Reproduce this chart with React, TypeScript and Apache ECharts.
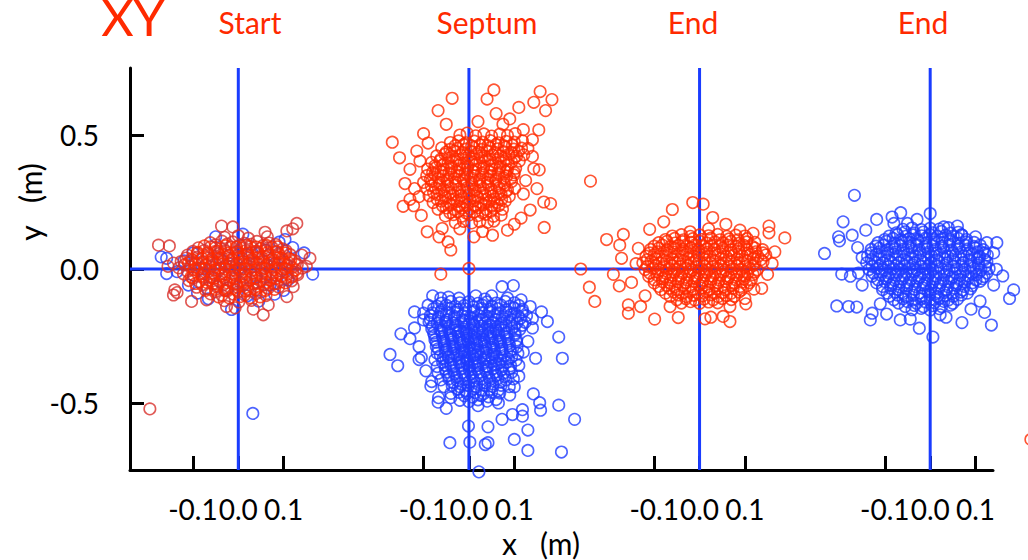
import React, { useEffect, useRef } from "react";
import * as echarts from "echarts";

// ---- data ----
const panelTitles = ["Start", "Septum", "End", "End"];
const panelTitleX = [250, 487, 693, 923];
const panelOffsets = [0, 0.5085, 1.017, 1.5255];
const localTicks = [-0.1, 0.0, 0.1];
const yTicks = [-0.5, 0, 0.5];
const xMin = -0.2388;
const xMax = 1.664;
const yMin = -0.75;
const yMax = 0.75;

type P = [number, number];

const startRed: P[] = [
  [-0.03,0.118],[0.0,0.124],[0.022,0.115],
  [-0.062,0.098],[-0.036,0.104],[-0.012,0.101],[0.014,0.096],[0.041,0.103],[0.068,0.097],
  [-0.088,0.079],[-0.061,0.083],[-0.039,0.076],[-0.016,0.082],[0.006,0.078],[0.027,0.084],[0.049,0.077],[0.074,0.081],[0.098,0.075],
  [-0.112,0.052],[-0.09,0.058],[-0.066,0.054],[-0.044,0.057],[-0.021,0.051],[0.0,0.056],[0.021,0.053],[0.044,0.058],[0.066,0.052],[0.089,0.057],[0.114,0.054],
  [-0.126,0.028],[-0.101,0.033],[-0.079,0.027],[-0.056,0.031],[-0.034,0.029],[-0.011,0.034],[0.011,0.027],[0.034,0.032],[0.056,0.028],[0.079,0.033],[0.101,0.027],[0.124,0.031],
  [-0.131,0.004],[-0.106,0.008],[-0.084,0.002],[-0.061,0.007],[-0.039,0.003],[-0.016,0.008],[0.006,0.002],[0.029,0.007],[0.051,0.003],[0.074,0.008],[0.096,0.001],[0.119,0.006],[0.141,0.003],
  [-0.121,-0.018],[-0.099,-0.023],[-0.076,-0.017],[-0.051,-0.022],[-0.029,-0.019],[-0.006,-0.024],[0.016,-0.018],[0.039,-0.022],[0.061,-0.017],[0.084,-0.023],[0.109,-0.019],[0.131,-0.021],
  [-0.109,-0.043],[-0.086,-0.048],[-0.064,-0.042],[-0.041,-0.047],[-0.019,-0.044],[0.004,-0.049],[0.026,-0.042],[0.049,-0.046],[0.071,-0.043],[0.094,-0.048],[0.118,-0.044],
  [-0.092,-0.068],[-0.069,-0.073],[-0.046,-0.067],[-0.024,-0.072],[-0.001,-0.069],[0.021,-0.074],[0.044,-0.068],[0.066,-0.072],[0.089,-0.067],
  [-0.061,-0.093],[-0.036,-0.098],[-0.011,-0.094],[0.014,-0.097],[0.039,-0.092],[0.061,-0.099],
  [-0.031,-0.118],[0.001,-0.123],[0.029,-0.117],
  [-0.176,0.089],[-0.152,0.086],[-0.037,0.16],[-0.012,0.157],[0.059,0.137],[0.064,0.12],[0.107,0.142],[0.129,0.17],[0.12,0.15],[0.158,0.04],[0.14,0.052],[-0.143,0.022],[-0.14,-0.078],[-0.143,-0.097],[-0.135,-0.088],[-0.103,-0.121],[-0.07,-0.115],[-0.026,-0.14],[-0.007,-0.145],[0.033,-0.15],[0.055,-0.171],[0.066,-0.134],[0.107,-0.103],[0.121,-0.066],[0.129,-0.016],[0.15,0.01],[-0.155,0.01],[-0.195,-0.522],
];

const startRedCore: P[] = [
  [-0.05,0.09],[-0.025,0.093],[0.003,0.089],[0.028,0.092],[0.055,0.088],[0.083,0.091],
  [-0.1,0.066],[-0.075,0.069],[-0.052,0.065],[-0.03,0.068],[-0.005,0.064],[0.017,0.069],[0.039,0.066],[0.06,0.07],[0.083,0.065],[0.105,0.068],
  [-0.115,0.041],[-0.09,0.044],[-0.068,0.04],[-0.045,0.043],[-0.022,0.039],[0.002,0.044],[0.024,0.041],[0.045,0.045],[0.068,0.04],[0.09,0.043],[0.112,0.039],
  [-0.118,0.016],[-0.095,0.019],[-0.071,0.015],[-0.05,0.018],[-0.027,0.014],[-0.004,0.019],[0.018,0.016],[0.04,0.02],[0.063,0.015],[0.086,0.018],[0.108,0.014],[0.13,0.017],
  [-0.112,-0.009],[-0.09,-0.006],[-0.066,-0.01],[-0.044,-0.007],[-0.02,-0.011],[0.004,-0.006],[0.027,-0.009],[0.05,-0.005],[0.072,-0.01],[0.095,-0.007],[0.12,-0.011],
  [-0.1,-0.034],[-0.077,-0.031],[-0.054,-0.035],[-0.031,-0.032],[-0.008,-0.036],[0.015,-0.031],[0.038,-0.034],[0.06,-0.03],[0.083,-0.035],[0.106,-0.032],
  [-0.08,-0.059],[-0.056,-0.056],[-0.034,-0.06],[-0.011,-0.057],[0.011,-0.061],[0.033,-0.056],[0.056,-0.059],[0.078,-0.055],
  [-0.05,-0.084],[-0.024,-0.081],[0.0,-0.085],[0.026,-0.082],[0.05,-0.086],
];

const startRedCenter: P[] = [
  [-0.075,0.086],[-0.05,0.08],[-0.028,0.087],[-0.004,0.081],[0.018,0.088],[0.04,0.082],[0.062,0.088],[0.086,0.083],
  [-0.09,0.062],[-0.068,0.06],[-0.046,0.065],[-0.024,0.059],[-0.002,0.063],[0.02,0.06],[0.042,0.065],[0.064,0.061],[0.086,0.064],[0.104,0.06],
  [-0.104,0.037],[-0.08,0.04],[-0.058,0.036],[-0.036,0.041],[-0.014,0.036],[0.008,0.04],[0.03,0.037],[0.052,0.042],[0.074,0.036],[0.096,0.04],[0.116,0.036],
  [-0.11,0.022],[-0.088,0.019],[-0.064,0.024],[-0.042,0.02],[-0.02,0.023],[0.002,0.018],[0.024,0.022],[0.046,0.018],[0.068,0.023],[0.09,0.019],[0.112,0.022],
  [-0.098,-0.002],[-0.074,0.002],[-0.052,-0.003],[-0.03,0.001],[-0.008,-0.004],[0.014,0.0],[0.036,-0.003],[0.058,0.002],[0.08,-0.002],[0.104,0.001],[0.126,-0.004],
  [-0.104,-0.03],[-0.08,-0.026],[-0.058,-0.03],[-0.036,-0.025],[-0.014,-0.029],[0.008,-0.026],[0.03,-0.031],[0.052,-0.025],[0.074,-0.029],[0.096,-0.026],[0.118,-0.03],
  [-0.094,-0.054],[-0.07,-0.05],[-0.048,-0.055],[-0.026,-0.051],[-0.004,-0.056],[0.018,-0.05],[0.04,-0.054],[0.062,-0.05],[0.084,-0.055],[0.104,-0.052],
  [-0.072,-0.08],[-0.05,-0.076],[-0.028,-0.081],[-0.006,-0.077],[0.016,-0.082],[0.038,-0.077],[0.06,-0.08],[0.08,-0.076],
  [-0.044,-0.104],[-0.02,-0.108],[0.004,-0.103],[0.026,-0.107],[0.048,-0.104],
];

const startBlue: P[] = [
  [-0.158,0.04],[-0.158,-0.017],[0.164,-0.019],[-0.066,-0.111],[-0.015,-0.151],[0.08,-0.094],[0.103,0.11],[0.145,0.06],[0.032,-0.539],[-0.17,0.045],[-0.05,0.12],[0.01,0.13],[0.09,0.1],[-0.1,0.06],[-0.08,0.0],[-0.04,0.04],[0.0,0.0],[0.04,-0.03],[0.08,0.02],[0.11,-0.04],[-0.11,-0.06],[-0.03,-0.08],[0.02,-0.1],[0.06,0.07],[-0.06,-0.03],[0.12,0.08],[-0.12,0.03],[0.03,0.06],[-0.02,0.02],[0.07,-0.06],[0.1,-0.08],[-0.09,-0.09],[0.045,-0.12],[-0.135,-0.01],
];

const septumRed: P[] = [
  [-0.02,0.5],[-0.004,0.507],[0.015,0.497],[0.033,0.504],[0.05,0.496],[0.068,0.503],[0.085,0.498],[0.102,0.505],
  [-0.041,0.472],[-0.023,0.478],[-0.006,0.471],[0.012,0.477],[0.03,0.473],[0.047,0.479],[0.065,0.471],[0.082,0.476],[0.1,0.473],[0.118,0.478],
  [-0.06,0.452],[-0.042,0.446],[-0.025,0.451],[-0.007,0.447],[0.011,0.453],[0.028,0.446],[0.046,0.452],[0.063,0.448],[0.081,0.454],[0.099,0.447],[0.116,0.451],
  [-0.071,0.422],[-0.053,0.428],[-0.036,0.421],[-0.018,0.427],[0.0,0.423],[0.017,0.429],[0.035,0.421],[0.052,0.426],[0.07,0.422],[0.088,0.428],[0.105,0.421],[0.121,0.426],
  [-0.082,0.398],[-0.064,0.403],[-0.046,0.397],[-0.029,0.402],[-0.011,0.396],[0.006,0.401],[0.024,0.398],[0.042,0.404],[0.059,0.397],[0.077,0.402],[0.094,0.399],[0.111,0.403],
  [-0.091,0.373],[-0.073,0.378],[-0.056,0.372],[-0.038,0.377],[-0.02,0.374],[-0.003,0.379],[0.015,0.372],[0.032,0.376],[0.05,0.373],[0.068,0.378],[0.085,0.371],[0.103,0.376],
  [-0.093,0.348],[-0.075,0.353],[-0.057,0.347],[-0.04,0.352],[-0.022,0.349],[-0.004,0.354],[0.013,0.347],[0.031,0.351],[0.048,0.348],[0.066,0.353],[0.083,0.346],[0.099,0.351],
  [-0.1,0.323],[-0.082,0.328],[-0.064,0.322],[-0.047,0.327],[-0.029,0.324],[-0.011,0.329],[0.006,0.322],[0.024,0.326],[0.041,0.323],[0.059,0.328],[0.077,0.321],[0.094,0.326],
  [-0.092,0.298],[-0.074,0.303],[-0.056,0.297],[-0.039,0.302],[-0.021,0.299],[-0.003,0.304],[0.014,0.297],[0.032,0.301],[0.049,0.298],[0.067,0.303],[0.085,0.296],[0.101,0.301],
  [-0.088,0.273],[-0.07,0.278],[-0.052,0.272],[-0.035,0.277],[-0.017,0.274],[0.001,0.279],[0.018,0.272],[0.036,0.276],[0.053,0.273],[0.071,0.278],[0.089,0.271],
  [-0.079,0.248],[-0.061,0.253],[-0.043,0.247],[-0.026,0.252],[-0.008,0.249],[0.01,0.254],[0.027,0.247],[0.045,0.251],[0.062,0.248],[0.08,0.253],
  [-0.068,0.223],[-0.05,0.228],[-0.032,0.222],[-0.015,0.227],[0.003,0.224],[0.021,0.229],[0.038,0.222],[0.056,0.226],[0.074,0.223],
  [-0.052,0.198],[-0.034,0.203],[-0.016,0.197],[0.001,0.202],[0.019,0.199],[0.037,0.204],[0.054,0.197],[0.071,0.201],
  [-0.03,0.173],[-0.012,0.178],[0.006,0.172],[0.024,0.177],[0.041,0.174],[0.055,0.179],
  [-0.169,0.473],[-0.153,0.415],[-0.13,0.372],[-0.141,0.319],[-0.145,0.234],[-0.122,0.236],[-0.108,0.403],[-0.1,0.505],[-0.068,0.591],[-0.037,0.637],[0.04,0.634],[0.055,0.668],[0.11,0.603],[0.143,0.622],[0.157,0.662],[0.183,0.632],[0.169,0.591],[0.154,0.519],[0.14,0.482],[0.143,0.374],[0.155,0.37],[0.18,0.244],[0.165,0.25],[0.166,0.155],[0.1,0.167],[0.085,0.145],[0.052,0.126],[0.011,0.12],[-0.04,0.071],[-0.046,0.101],[-0.066,0.12],[-0.092,0.139],[-0.059,0.151],[0.268,0.328],[-0.062,-0.019],[0.0,0.002],
  [-0.115,0.44],[-0.12,0.3],[-0.11,0.27],[-0.105,0.2],[0.13,0.45],[0.14,0.42],[0.125,0.33],[0.12,0.28],[0.135,0.22],[0.115,0.19],[0.075,0.54],[0.09,0.56],[0.02,0.55],[-0.05,0.54],[-0.09,0.47],[0.12,0.52],[0.15,0.3],[-0.13,0.26],[0.03,0.14],[-0.02,0.15],[0.06,0.58],[0.1,0.36],
];

const septumRedCore: P[] = [
  [-0.03,0.46],[-0.012,0.464],[0.006,0.459],[0.024,0.463],[0.042,0.46],[0.06,0.465],[0.078,0.459],[0.096,0.462],
  [-0.05,0.436],[-0.032,0.44],[-0.014,0.435],[0.004,0.439],[0.022,0.436],[0.04,0.441],[0.058,0.435],[0.076,0.438],[0.094,0.435],[0.11,0.44],
  [-0.062,0.41],[-0.044,0.414],[-0.026,0.409],[-0.008,0.413],[0.01,0.41],[0.028,0.415],[0.046,0.409],[0.064,0.412],[0.082,0.409],[0.1,0.414],
  [-0.075,0.385],[-0.057,0.389],[-0.039,0.384],[-0.021,0.388],[-0.003,0.385],[0.015,0.39],[0.033,0.384],[0.051,0.387],[0.069,0.384],[0.087,0.389],
  [-0.08,0.36],[-0.062,0.364],[-0.044,0.359],[-0.026,0.363],[-0.008,0.36],[0.01,0.365],[0.028,0.359],[0.046,0.362],[0.064,0.359],[0.082,0.364],
  [-0.085,0.335],[-0.067,0.339],[-0.049,0.334],[-0.031,0.338],[-0.013,0.335],[0.005,0.34],[0.023,0.334],[0.041,0.337],[0.059,0.334],[0.077,0.339],[0.092,0.336],
  [-0.083,0.31],[-0.065,0.314],[-0.047,0.309],[-0.029,0.313],[-0.011,0.31],[0.007,0.315],[0.025,0.309],[0.043,0.312],[0.061,0.309],[0.079,0.314],
  [-0.078,0.285],[-0.06,0.289],[-0.042,0.284],[-0.024,0.288],[-0.006,0.285],[0.012,0.29],[0.03,0.284],[0.048,0.287],[0.066,0.284],[0.082,0.289],
  [-0.07,0.26],[-0.052,0.264],[-0.034,0.259],[-0.016,0.263],[0.002,0.26],[0.02,0.265],[0.038,0.259],[0.056,0.262],[0.072,0.259],
  [-0.058,0.235],[-0.04,0.239],[-0.022,0.234],[-0.004,0.238],[0.014,0.235],[0.032,0.24],[0.05,0.234],[0.066,0.237],
  [-0.042,0.21],[-0.024,0.214],[-0.006,0.209],[0.012,0.213],[0.03,0.21],[0.048,0.215],
];

const septumBlue: P[] = [
  [-0.06,-0.127],[-0.04,-0.121],[-0.02,-0.126],[0.0,-0.122],[0.02,-0.128],[0.04,-0.123],[0.06,-0.127],[0.08,-0.121],[0.1,-0.126],
  [-0.078,-0.148],[-0.06,-0.154],[-0.043,-0.147],[-0.025,-0.152],[-0.007,-0.149],[0.011,-0.155],[0.028,-0.147],[0.046,-0.151],[0.064,-0.148],[0.082,-0.153],[0.1,-0.146],[0.118,-0.151],
  [-0.085,-0.173],[-0.067,-0.178],[-0.05,-0.172],[-0.032,-0.177],[-0.014,-0.174],[0.003,-0.179],[0.021,-0.172],[0.039,-0.176],[0.056,-0.173],[0.074,-0.178],[0.092,-0.171],[0.109,-0.176],[0.127,-0.174],
  [-0.088,-0.198],[-0.07,-0.203],[-0.052,-0.197],[-0.035,-0.202],[-0.017,-0.199],[0.001,-0.204],[0.018,-0.197],[0.036,-0.201],[0.053,-0.198],[0.071,-0.203],[0.089,-0.196],[0.106,-0.201],[0.124,-0.199],
  [-0.082,-0.223],[-0.064,-0.228],[-0.046,-0.222],[-0.029,-0.227],[-0.011,-0.224],[0.007,-0.229],[0.024,-0.222],[0.042,-0.226],[0.059,-0.223],[0.077,-0.228],[0.095,-0.221],[0.112,-0.226],
  [-0.076,-0.248],[-0.058,-0.253],[-0.04,-0.247],[-0.023,-0.252],[-0.005,-0.249],[0.013,-0.254],[0.03,-0.247],[0.048,-0.251],[0.065,-0.248],[0.083,-0.253],[0.101,-0.246],
  [-0.072,-0.273],[-0.054,-0.278],[-0.036,-0.272],[-0.019,-0.277],[-0.001,-0.274],[0.017,-0.279],[0.034,-0.272],[0.052,-0.276],[0.069,-0.273],[0.087,-0.278],[0.104,-0.271],
  [-0.068,-0.298],[-0.05,-0.303],[-0.032,-0.297],[-0.015,-0.302],[0.003,-0.299],[0.021,-0.304],[0.038,-0.297],[0.056,-0.301],[0.073,-0.298],[0.091,-0.303],
  [-0.063,-0.323],[-0.045,-0.328],[-0.027,-0.322],[-0.01,-0.327],[0.008,-0.324],[0.026,-0.329],[0.043,-0.322],[0.061,-0.326],[0.078,-0.323],[0.094,-0.328],
  [-0.058,-0.348],[-0.04,-0.353],[-0.022,-0.347],[-0.005,-0.352],[0.013,-0.349],[0.031,-0.354],[0.048,-0.347],[0.066,-0.351],[0.083,-0.348],
  [-0.052,-0.373],[-0.034,-0.378],[-0.016,-0.372],[0.001,-0.377],[0.019,-0.374],[0.037,-0.379],[0.054,-0.372],[0.072,-0.376],[0.089,-0.373],
  [-0.045,-0.398],[-0.027,-0.403],[-0.009,-0.397],[0.008,-0.402],[0.026,-0.399],[0.044,-0.404],[0.061,-0.397],[0.079,-0.401],
  [-0.036,-0.423],[-0.018,-0.428],[0.0,-0.422],[0.017,-0.427],[0.035,-0.424],[0.053,-0.429],[0.07,-0.422],
  [-0.025,-0.448],[-0.007,-0.453],[0.011,-0.447],[0.028,-0.452],[0.046,-0.449],[0.064,-0.454],
  [-0.01,-0.473],[0.008,-0.478],[0.026,-0.472],[0.043,-0.477],
  [0.073,-0.066],[0.098,-0.062],[-0.062,-0.109],[-0.022,-0.109],[-0.15,-0.242],[-0.174,-0.319],[-0.157,-0.361],[-0.11,-0.338],[0.173,-0.196],[0.198,-0.254],[0.206,-0.333],[0.147,-0.333],[0.142,-0.466],[0.156,-0.499],[0.158,-0.527],[0.198,-0.508],[0.233,-0.561],[0.204,-0.683],[0.13,-0.601],[0.13,-0.677],[0.118,-0.549],[0.1,-0.636],[0.042,-0.589],[0.042,-0.648],[0.036,-0.655],[0.002,-0.646],[-0.042,-0.648],[-0.001,-0.586],[0.022,-0.757],[-0.068,-0.497],[-0.067,-0.48],[-0.084,-0.437],[-0.082,-0.42],[0.073,-0.561],[0.096,-0.543],[0.118,-0.525],
  [-0.12,-0.22],[-0.13,-0.26],[-0.11,-0.29],[-0.1,-0.19],[-0.105,-0.33],[-0.095,-0.38],[0.14,-0.22],[0.13,-0.27],[0.12,-0.31],[0.11,-0.4],[0.1,-0.44],[0.09,-0.47],[0.065,-0.5],[-0.04,-0.48],[-0.05,-0.52],[0.02,-0.51],[0.05,-0.1],[-0.08,-0.1],[0.16,-0.16],[0.11,-0.36],[-0.12,-0.16],
];

const septumBlueCore: P[] = [
  [-0.07,-0.139],[-0.05,-0.135],[-0.03,-0.14],[-0.01,-0.136],[0.01,-0.141],[0.03,-0.135],[0.05,-0.138],[0.07,-0.134],[0.09,-0.139],[0.11,-0.136],
  [-0.08,-0.164],[-0.062,-0.16],[-0.044,-0.165],[-0.026,-0.161],[-0.008,-0.166],[0.01,-0.16],[0.028,-0.163],[0.046,-0.159],[0.064,-0.164],[0.082,-0.161],[0.1,-0.165],[0.118,-0.16],
  [-0.085,-0.189],[-0.067,-0.185],[-0.049,-0.19],[-0.031,-0.186],[-0.013,-0.191],[0.005,-0.185],[0.023,-0.188],[0.041,-0.184],[0.059,-0.189],[0.077,-0.186],[0.095,-0.19],[0.113,-0.185],
  [-0.08,-0.214],[-0.062,-0.21],[-0.044,-0.215],[-0.026,-0.211],[-0.008,-0.216],[0.01,-0.21],[0.028,-0.213],[0.046,-0.209],[0.064,-0.214],[0.082,-0.211],[0.1,-0.215],[0.118,-0.21],
  [-0.078,-0.239],[-0.06,-0.235],[-0.042,-0.24],[-0.024,-0.236],[-0.006,-0.241],[0.012,-0.235],[0.03,-0.238],[0.048,-0.234],[0.066,-0.239],[0.084,-0.236],[0.102,-0.24],
  [-0.075,-0.264],[-0.057,-0.26],[-0.039,-0.265],[-0.021,-0.261],[-0.003,-0.266],[0.015,-0.26],[0.033,-0.263],[0.051,-0.259],[0.069,-0.264],[0.087,-0.261],[0.105,-0.265],
  [-0.072,-0.289],[-0.054,-0.285],[-0.036,-0.29],[-0.018,-0.286],[0.0,-0.291],[0.018,-0.285],[0.036,-0.288],[0.054,-0.284],[0.072,-0.289],[0.09,-0.286],[0.106,-0.29],
  [-0.07,-0.314],[-0.052,-0.31],[-0.034,-0.315],[-0.016,-0.311],[0.002,-0.316],[0.02,-0.31],[0.038,-0.313],[0.056,-0.309],[0.074,-0.314],[0.092,-0.311],[0.108,-0.315],
  [-0.075,-0.339],[-0.057,-0.335],[-0.039,-0.34],[-0.021,-0.336],[-0.003,-0.341],[0.015,-0.335],[0.033,-0.338],[0.051,-0.334],[0.069,-0.339],[0.087,-0.336],[0.104,-0.34],
  [-0.07,-0.364],[-0.052,-0.36],[-0.034,-0.365],[-0.016,-0.361],[0.002,-0.366],[0.02,-0.36],[0.038,-0.363],[0.056,-0.359],[0.074,-0.364],[0.092,-0.361],
  [-0.068,-0.389],[-0.05,-0.385],[-0.032,-0.39],[-0.014,-0.386],[0.004,-0.391],[0.022,-0.385],[0.04,-0.388],[0.058,-0.384],[0.076,-0.389],[0.094,-0.386],
  [-0.062,-0.414],[-0.044,-0.41],[-0.026,-0.415],[-0.008,-0.411],[0.01,-0.416],[0.028,-0.41],[0.046,-0.413],[0.064,-0.409],[0.082,-0.414],[0.098,-0.41],
  [-0.055,-0.439],[-0.037,-0.435],[-0.019,-0.44],[-0.001,-0.436],[0.017,-0.441],[0.035,-0.435],[0.053,-0.438],[0.071,-0.434],[0.089,-0.439],
  [-0.04,-0.464],[-0.022,-0.46],[-0.004,-0.465],[0.014,-0.461],[0.032,-0.466],[0.05,-0.46],[0.068,-0.463],
  [-0.02,-0.49],[0.0,-0.495],[0.02,-0.488],[0.04,-0.493],[0.06,-0.487],
];

const septumBlueCenter: P[] = [
  [-0.05,-0.2],[-0.03,-0.21],[-0.01,-0.195],[0.01,-0.205],[0.03,-0.19],[0.05,-0.2],[0.07,-0.21],
  [-0.06,-0.23],[-0.04,-0.245],[-0.02,-0.23],[0.0,-0.24],[0.02,-0.232],[0.04,-0.245],[0.06,-0.23],[0.08,-0.242],
  [-0.055,-0.27],[-0.035,-0.26],[-0.015,-0.272],[0.005,-0.262],[0.025,-0.27],[0.045,-0.258],[0.065,-0.27],
  [-0.05,-0.3],[-0.03,-0.29],[-0.01,-0.305],[0.01,-0.295],[0.03,-0.306],[0.05,-0.292],[0.07,-0.3],
  [-0.045,-0.33],[-0.025,-0.318],[-0.005,-0.333],[0.015,-0.32],[0.035,-0.332],[0.055,-0.32],
  [-0.04,-0.36],[-0.02,-0.35],[0.0,-0.362],[0.02,-0.352],[0.04,-0.365],[0.06,-0.355],
  [-0.045,-0.105],[0.015,-0.1],[0.035,-0.112],[0.085,-0.108],[0.115,-0.115],[-0.09,-0.135],[0.135,-0.14],[-0.1,-0.165],[0.14,-0.185],
];

const end1Red: P[] = [
  [-0.06,0.123],[-0.04,0.128],[-0.02,0.122],[0.0,0.127],[0.02,0.124],[0.04,0.129],[0.06,0.122],[0.08,0.126],[0.1,0.123],
  [-0.09,0.098],[-0.072,0.103],[-0.054,0.097],[-0.037,0.102],[-0.019,0.099],[-0.001,0.104],[0.016,0.097],[0.034,0.101],[0.051,0.098],[0.069,0.103],[0.087,0.096],[0.104,0.101],[0.122,0.099],
  [-0.108,0.073],[-0.09,0.078],[-0.072,0.072],[-0.055,0.077],[-0.037,0.074],[-0.019,0.079],[-0.002,0.072],[0.016,0.076],[0.033,0.073],[0.051,0.078],[0.069,0.071],[0.086,0.076],[0.104,0.074],[0.122,0.078],[0.139,0.072],
  [-0.118,0.048],[-0.1,0.053],[-0.082,0.047],[-0.065,0.052],[-0.047,0.049],[-0.029,0.054],[-0.012,0.047],[0.006,0.051],[0.023,0.048],[0.041,0.053],[0.059,0.046],[0.076,0.051],[0.094,0.049],[0.112,0.054],[0.129,0.047],[0.146,0.052],
  [-0.125,0.023],[-0.107,0.028],[-0.089,0.022],[-0.072,0.027],[-0.054,0.024],[-0.036,0.029],[-0.019,0.022],[-0.001,0.026],[0.016,0.023],[0.034,0.028],[0.052,0.021],[0.069,0.026],[0.087,0.024],[0.105,0.029],[0.122,0.022],[0.14,0.027],
  [-0.12,-0.002],[-0.102,0.003],[-0.084,-0.003],[-0.067,0.002],[-0.049,-0.001],[-0.031,0.004],[-0.014,-0.003],[0.004,0.001],[0.021,-0.002],[0.039,0.003],[0.057,-0.004],[0.074,0.001],[0.092,-0.001],[0.11,0.004],[0.127,-0.003],
  [-0.112,-0.027],[-0.094,-0.022],[-0.076,-0.028],[-0.059,-0.023],[-0.041,-0.026],[-0.023,-0.021],[-0.006,-0.028],[0.012,-0.024],[0.029,-0.027],[0.047,-0.022],[0.065,-0.029],[0.082,-0.024],[0.1,-0.026],[0.118,-0.021],
  [-0.1,-0.052],[-0.082,-0.047],[-0.064,-0.053],[-0.047,-0.048],[-0.029,-0.051],[-0.011,-0.046],[0.006,-0.053],[0.024,-0.049],[0.041,-0.052],[0.059,-0.047],[0.077,-0.054],[0.094,-0.049],[0.11,-0.051],
  [-0.085,-0.077],[-0.067,-0.072],[-0.049,-0.078],[-0.032,-0.073],[-0.014,-0.076],[0.004,-0.071],[0.021,-0.078],[0.039,-0.074],[0.056,-0.077],[0.074,-0.072],[0.092,-0.079],
  [-0.065,-0.102],[-0.047,-0.097],[-0.029,-0.103],[-0.012,-0.098],[0.006,-0.101],[0.024,-0.096],[0.041,-0.103],[0.059,-0.099],[0.077,-0.102],
  [-0.04,-0.127],[-0.02,-0.122],[0.0,-0.128],[0.02,-0.123],[0.04,-0.126],
  [-0.205,0.11],[-0.168,0.129],[-0.176,0.089],[-0.135,0.077],[-0.172,0.04],[-0.11,0.148],[-0.079,0.176],[-0.06,0.222],[-0.015,0.248],[0.008,0.242],[0.029,0.192],[0.058,0.167],[0.089,0.145],[0.118,0.133],[0.153,0.16],[0.153,0.135],[0.188,0.116],[0.166,0.064],[0.14,0.06],[-0.021,0.139],[0.02,0.15],[-0.262,0.0],[-0.243,-0.068],[-0.231,-0.121],[-0.177,-0.063],[-0.157,-0.134],[-0.157,-0.165],[-0.13,-0.14],[-0.099,-0.187],[-0.047,-0.181],[-0.065,-0.14],[0.012,-0.186],[0.025,-0.18],[0.067,-0.196],[0.067,-0.14],[0.102,-0.13],[0.137,-0.072],[0.12,-0.075],[0.052,-0.177],[-0.19,-0.02],[-0.15,-0.05],[-0.14,0.02],[0.15,-0.02],[0.16,0.02],[-0.12,-0.1],[0.1,-0.11],
];

const end1RedCore: P[] = [
  [-0.075,0.11],[-0.055,0.114],[-0.035,0.109],[-0.015,0.113],[0.005,0.11],[0.025,0.115],[0.045,0.109],[0.065,0.112],[0.085,0.109],[0.105,0.113],
  [-0.1,0.085],[-0.082,0.089],[-0.064,0.084],[-0.046,0.088],[-0.028,0.085],[-0.01,0.09],[0.008,0.084],[0.026,0.087],[0.044,0.084],[0.062,0.089],[0.08,0.085],[0.098,0.088],[0.116,0.084],
  [-0.11,0.06],[-0.092,0.064],[-0.074,0.059],[-0.056,0.063],[-0.038,0.06],[-0.02,0.065],[-0.002,0.059],[0.016,0.062],[0.034,0.059],[0.052,0.064],[0.07,0.06],[0.088,0.063],[0.106,0.059],[0.124,0.064],
  [-0.115,0.035],[-0.097,0.039],[-0.079,0.034],[-0.061,0.038],[-0.043,0.035],[-0.025,0.04],[-0.007,0.034],[0.011,0.037],[0.029,0.034],[0.047,0.039],[0.065,0.035],[0.083,0.038],[0.101,0.034],[0.119,0.039],[0.135,0.035],
  [-0.115,0.01],[-0.097,0.014],[-0.079,0.009],[-0.061,0.013],[-0.043,0.01],[-0.025,0.015],[-0.007,0.009],[0.011,0.012],[0.029,0.009],[0.047,0.014],[0.065,0.01],[0.083,0.013],[0.101,0.009],[0.119,0.014],
  [-0.11,-0.015],[-0.092,-0.011],[-0.074,-0.016],[-0.056,-0.012],[-0.038,-0.015],[-0.02,-0.01],[-0.002,-0.016],[0.016,-0.013],[0.034,-0.016],[0.052,-0.011],[0.07,-0.015],[0.088,-0.012],[0.106,-0.016],[0.122,-0.011],
  [-0.1,-0.04],[-0.082,-0.036],[-0.064,-0.041],[-0.046,-0.037],[-0.028,-0.04],[-0.01,-0.035],[0.008,-0.041],[0.026,-0.038],[0.044,-0.041],[0.062,-0.036],[0.08,-0.04],[0.098,-0.037],[0.114,-0.041],
  [-0.09,-0.065],[-0.072,-0.061],[-0.054,-0.066],[-0.036,-0.062],[-0.018,-0.065],[0.0,-0.06],[0.018,-0.066],[0.036,-0.063],[0.054,-0.066],[0.072,-0.061],[0.09,-0.065],[0.105,-0.062],
  [-0.075,-0.09],[-0.057,-0.086],[-0.039,-0.091],[-0.021,-0.087],[-0.003,-0.09],[0.015,-0.085],[0.033,-0.091],[0.051,-0.088],[0.069,-0.091],[0.087,-0.086],
  [-0.05,-0.115],[-0.03,-0.111],[-0.01,-0.116],[0.01,-0.112],[0.03,-0.115],[0.05,-0.11],[0.07,-0.114],
];

const end2Blue: P[] = [
  [-0.06,0.148],[-0.04,0.153],[-0.02,0.147],[0.0,0.152],[0.02,0.149],[0.04,0.154],
  [-0.09,0.123],[-0.072,0.128],[-0.054,0.122],[-0.037,0.127],[-0.019,0.124],[-0.001,0.129],[0.016,0.122],[0.034,0.126],[0.051,0.123],[0.069,0.128],
  [-0.115,0.098],[-0.097,0.103],[-0.079,0.097],[-0.062,0.102],[-0.044,0.099],[-0.026,0.104],[-0.009,0.097],[0.009,0.101],[0.026,0.098],[0.044,0.103],[0.062,0.096],[0.079,0.101],[0.097,0.099],
  [-0.13,0.073],[-0.112,0.078],[-0.094,0.072],[-0.077,0.077],[-0.059,0.074],[-0.041,0.079],[-0.024,0.072],[-0.006,0.076],[0.011,0.073],[0.029,0.078],[0.047,0.071],[0.064,0.076],[0.082,0.074],[0.1,0.078],[0.117,0.072],
  [-0.138,0.048],[-0.12,0.053],[-0.102,0.047],[-0.085,0.052],[-0.067,0.049],[-0.049,0.054],[-0.032,0.047],[-0.014,0.051],[0.003,0.048],[0.021,0.053],[0.039,0.046],[0.056,0.051],[0.074,0.049],[0.092,0.054],[0.109,0.047],[0.126,0.052],
  [-0.14,0.023],[-0.122,0.028],[-0.104,0.022],[-0.087,0.027],[-0.069,0.024],[-0.051,0.029],[-0.034,0.022],[-0.016,0.026],[0.001,0.023],[0.019,0.028],[0.037,0.021],[0.054,0.026],[0.072,0.024],[0.09,0.029],[0.107,0.022],[0.125,0.027],
  [-0.135,-0.002],[-0.117,0.003],[-0.099,-0.003],[-0.082,0.002],[-0.064,-0.001],[-0.046,0.004],[-0.029,-0.003],[-0.011,0.001],[0.006,-0.002],[0.024,0.003],[0.042,-0.004],[0.059,0.001],[0.077,-0.001],[0.095,0.004],[0.112,-0.003],[0.13,0.002],
  [-0.128,-0.027],[-0.11,-0.022],[-0.092,-0.028],[-0.075,-0.023],[-0.057,-0.026],[-0.039,-0.021],[-0.022,-0.028],[-0.004,-0.024],[0.013,-0.027],[0.031,-0.022],[0.049,-0.029],[0.066,-0.024],[0.084,-0.026],[0.102,-0.021],[0.119,-0.028],
  [-0.118,-0.052],[-0.1,-0.047],[-0.082,-0.053],[-0.065,-0.048],[-0.047,-0.051],[-0.029,-0.046],[-0.012,-0.053],[0.006,-0.049],[0.023,-0.052],[0.041,-0.047],[0.059,-0.054],[0.076,-0.049],[0.094,-0.051],[0.11,-0.046],
  [-0.105,-0.077],[-0.087,-0.072],[-0.069,-0.078],[-0.052,-0.073],[-0.034,-0.076],[-0.016,-0.071],[0.001,-0.078],[0.019,-0.074],[0.036,-0.077],[0.054,-0.072],[0.072,-0.079],[0.089,-0.074],
  [-0.09,-0.102],[-0.072,-0.097],[-0.054,-0.103],[-0.037,-0.098],[-0.019,-0.101],[-0.001,-0.096],[0.016,-0.103],[0.034,-0.099],[0.051,-0.102],[0.069,-0.097],
  [-0.07,-0.127],[-0.05,-0.122],[-0.03,-0.128],[-0.01,-0.123],[0.01,-0.126],[0.03,-0.121],[0.05,-0.128],
  [-0.04,-0.152],[-0.02,-0.147],[0.0,-0.153],[0.02,-0.148],
  [-0.167,0.275],[-0.192,0.176],[-0.233,0.058],[-0.202,0.12],[-0.2,0.105],[-0.172,0.126],[-0.142,0.145],[-0.118,0.185],[-0.084,0.194],[-0.065,0.21],[-0.029,0.185],[0.0,0.207],[0.03,0.157],[0.07,0.126],[0.125,0.098],[0.147,0.098],[0.107,0.043],[0.146,-0.001],[0.16,-0.026],[0.184,-0.078],[0.175,-0.11],[0.12,-0.162],[0.135,-0.209],[0.07,-0.2],[0.006,-0.254],[-0.024,-0.221],[-0.044,-0.187],[-0.096,-0.168],[-0.132,-0.19],[-0.128,-0.165],[-0.206,-0.138],[-0.18,-0.14],[-0.162,-0.142],[-0.195,-0.019],[-0.176,-0.027],[-0.158,-0.015],[-0.15,0.043],[-0.066,-0.19],[0.022,-0.171],[0.035,-0.18],[0.09,-0.15],[0.14,0.06],[-0.16,0.08],[-0.05,0.17],[0.06,0.16],[0.1,0.12],[0.14,-0.06],[-0.15,-0.06],[-0.11,-0.13],[0.11,-0.12],[-0.08,0.17],
];

const end2BlueCore: P[] = [
  [-0.075,0.135],[-0.055,0.139],[-0.035,0.134],[-0.015,0.138],[0.005,0.135],[0.025,0.14],[0.045,0.134],[0.062,0.137],
  [-0.1,0.11],[-0.082,0.114],[-0.064,0.109],[-0.046,0.113],[-0.028,0.11],[-0.01,0.115],[0.008,0.109],[0.026,0.112],[0.044,0.109],[0.062,0.114],[0.08,0.11],
  [-0.12,0.085],[-0.102,0.089],[-0.084,0.084],[-0.066,0.088],[-0.048,0.085],[-0.03,0.09],[-0.012,0.084],[0.006,0.087],[0.024,0.084],[0.042,0.089],[0.06,0.085],[0.078,0.088],[0.096,0.084],[0.11,0.089],
  [-0.13,0.06],[-0.112,0.064],[-0.094,0.059],[-0.076,0.063],[-0.058,0.06],[-0.04,0.065],[-0.022,0.059],[-0.004,0.062],[0.014,0.059],[0.032,0.064],[0.05,0.06],[0.068,0.063],[0.086,0.059],[0.104,0.064],[0.12,0.06],
  [-0.13,0.035],[-0.112,0.039],[-0.094,0.034],[-0.076,0.038],[-0.058,0.035],[-0.04,0.04],[-0.022,0.034],[-0.004,0.037],[0.014,0.034],[0.032,0.039],[0.05,0.035],[0.068,0.038],[0.086,0.034],[0.104,0.039],[0.12,0.035],
  [-0.128,0.01],[-0.11,0.014],[-0.092,0.009],[-0.074,0.013],[-0.056,0.01],[-0.038,0.015],[-0.02,0.009],[-0.002,0.012],[0.016,0.009],[0.034,0.014],[0.052,0.01],[0.07,0.013],[0.088,0.009],[0.106,0.014],[0.122,0.01],
  [-0.125,-0.015],[-0.107,-0.011],[-0.089,-0.016],[-0.071,-0.012],[-0.053,-0.015],[-0.035,-0.01],[-0.017,-0.016],[0.001,-0.013],[0.019,-0.016],[0.037,-0.011],[0.055,-0.015],[0.073,-0.012],[0.091,-0.016],[0.109,-0.011],[0.125,-0.015],
  [-0.115,-0.04],[-0.097,-0.036],[-0.079,-0.041],[-0.061,-0.037],[-0.043,-0.04],[-0.025,-0.035],[-0.007,-0.041],[0.011,-0.038],[0.029,-0.041],[0.047,-0.036],[0.065,-0.04],[0.083,-0.037],[0.101,-0.041],[0.115,-0.036],
  [-0.105,-0.065],[-0.087,-0.061],[-0.069,-0.066],[-0.051,-0.062],[-0.033,-0.065],[-0.015,-0.06],[0.003,-0.066],[0.021,-0.063],[0.039,-0.066],[0.057,-0.061],[0.075,-0.065],[0.093,-0.062],
  [-0.095,-0.09],[-0.077,-0.086],[-0.059,-0.091],[-0.041,-0.087],[-0.023,-0.09],[-0.005,-0.085],[0.013,-0.091],[0.031,-0.088],[0.049,-0.091],[0.067,-0.086],[0.082,-0.09],
  [-0.08,-0.115],[-0.06,-0.111],[-0.04,-0.116],[-0.02,-0.112],[0.0,-0.115],[0.02,-0.11],[0.04,-0.116],[0.06,-0.113],
  [-0.055,-0.14],[-0.035,-0.136],[-0.015,-0.141],[0.005,-0.137],[0.025,-0.14],[0.045,-0.135],
];

const end2Red: P[] = [[0.222, -0.636]];

// ---- styles ----
const RED = "#ff2a00";
const START_RED = "#d8302a";
const BLUE = "#1f3cff";
const LINE_BLUE = "#1a3cff";
const FONT = "Lato";

const shift = (pts: P[], panel: number) => pts.map(([x, y]) => [x + panelOffsets[panel], y]);

function scatter(name: string, pts: P[], panel: number, color: string, z: number) {
  return {
    name,
    type: "scatter",
    data: shift(pts, panel),
    symbol: "circle",
    symbolSize: 11.5,
    clip: false,
    z,
    itemStyle: { color: "rgba(0,0,0,0)", borderColor: color, borderWidth: 1.6 },
    emphasis: { disabled: true },
  };
}

export default function App() {
  const ref = useRef<HTMLDivElement>(null);
  useEffect(() => {
    if (!ref.current) return;
    const chart = echarts.init(ref.current, undefined, { renderer: "svg" });
    const xTickValues: number[] = [];
    panelOffsets.forEach((o) => localTicks.forEach((t) => xTickValues.push(o + t)));
    const lineSeries: any[] = panelOffsets.map((o, i) => ({
      name: "v" + i,
      type: "line",
      data: [[o, yMin], [o, yMax]],
      symbol: "none",
      lineStyle: { color: LINE_BLUE, width: 3 },
      z: 1,
      silent: true,
    }));
    lineSeries.push({
      name: "h",
      type: "line",
      data: [[xMin, 0], [panelOffsets[3], 0]],
      symbol: "none",
      lineStyle: { color: LINE_BLUE, width: 3 },
      z: 1,
      silent: true,
    });
    const titleGraphics = panelTitles.map((t, i) => ({
      type: "text",
      x: panelTitleX[i],
      y: 22,
      style: { text: t, fill: RED, font: `30px ${FONT}`, textAlign: "center", textVerticalAlign: "middle" },
    }));
    chart.setOption({
      animation: false,
      backgroundColor: "#ffffff",
      grid: { left: 130, right: 35, top: 68, bottom: 90, outerBoundsMode: "none" },
      xAxis: {
        type: "value",
        min: xMin,
        max: xMax,
        axisLine: { show: true, onZero: false, lineStyle: { color: "#000", width: 3 } },
        axisTick: { show: true, inside: true, length: 14, customValues: xTickValues, lineStyle: { color: "#000", width: 3 } },
        axisLabel: {
          show: true,
          customValues: xTickValues,
          margin: 25,
          color: "#000",
          fontFamily: FONT,
          fontSize: 28,
          formatter: (v: number) => {
            let best = panelOffsets[0];
            panelOffsets.forEach((o) => { if (Math.abs(v - o) < Math.abs(v - best)) best = o; });
            return (Math.round((v - best) * 10) / 10).toFixed(1);
          },
        },
        splitLine: { show: false },
      },
      yAxis: {
        type: "value",
        min: yMin,
        max: yMax,
        axisLine: { show: true, onZero: false, lineStyle: { color: "#000", width: 3 } },
        axisTick: { show: true, inside: true, length: 14, customValues: yTicks, lineStyle: { color: "#000", width: 3 } },
        axisLabel: {
          show: true,
          customValues: yTicks,
          margin: 31,
          color: "#000",
          fontFamily: FONT,
          fontSize: 28,
          formatter: (v: number) => v.toFixed(1),
        },
        splitLine: { show: false },
      },
      graphic: [
        { type: "text", x: 133, y: 17, style: { text: "XY", fill: RED, font: `50px ${FONT}`, textAlign: "center", textVerticalAlign: "middle" } },
        ...titleGraphics,
        { type: "text", x: 30, y: 202, rotation: Math.PI / 2, style: { text: "y   (m)", fill: "#000", font: `30px ${FONT}`, textAlign: "center", textVerticalAlign: "middle" } },
        { type: "text", x: 541, y: 543, style: { text: "x   (m)", fill: "#000", font: `30px ${FONT}`, textAlign: "center", textVerticalAlign: "middle" } },
      ],
      series: [
        ...lineSeries,
        scatter("startBlue", startBlue, 0, BLUE, 3),
        scatter("startRed", startRed.concat(startRedCore), 0, START_RED, 4),
        scatter("startRedCenter", startRedCenter, 0, RED, 4),
        scatter("septumRed", septumRed.concat(septumRedCore), 1, RED, 3),
        scatter("septumBlue", septumBlue.concat(septumBlueCore, septumBlueCenter), 1, BLUE, 3),
        scatter("end1Red", end1Red.concat(end1RedCore), 2, RED, 3),
        scatter("end2Blue", end2Blue.concat(end2BlueCore), 3, BLUE, 3),
        scatter("end2Red", end2Red, 3, RED, 3),
      ],
    });
    return () => chart.dispose();
  }, []);
  return <div ref={ref} style={{ position: "fixed", left: 0, top: 0, width: 1028, height: 560 }} />;
}
